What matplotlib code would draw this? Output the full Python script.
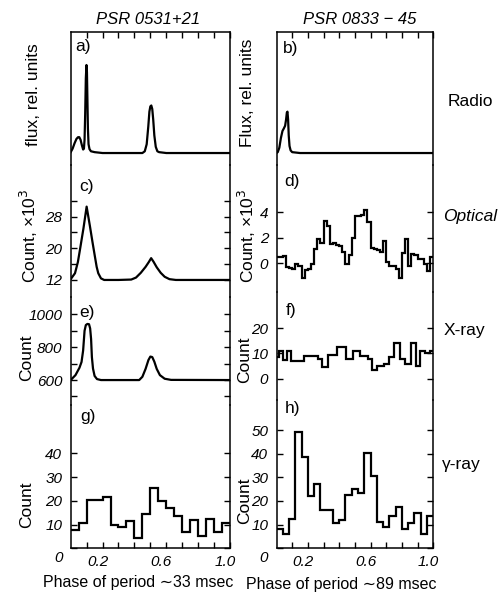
import matplotlib
matplotlib.use("Agg")
import matplotlib.pyplot as plt
import matplotlib.transforms as mtransforms
import numpy as np

W, H = 498, 593

# ---------------- data ----------------
# a) PSR 0531+21 radio (phase, relative flux)
crab_radio = [(0.0, 0.01), (0.012, 0.05), (0.024, 0.11), (0.036, 0.16), (0.046, 0.18),
              (0.054, 0.18), (0.062, 0.15), (0.070, 0.09), (0.078, 0.04), (0.083, 0.05),
              (0.087, 0.15), (0.091, 0.45), (0.095, 0.85), (0.099, 1.0), (0.102, 0.92),
              (0.105, 0.6), (0.108, 0.28), (0.112, 0.1), (0.118, 0.045), (0.127, 0.02),
              (0.15, 0.01), (0.2, 0.0), (0.45, 0.0), (0.465, 0.02), (0.477, 0.1),
              (0.487, 0.3), (0.494, 0.47), (0.5, 0.53), (0.506, 0.54), (0.512, 0.5),
              (0.518, 0.38), (0.525, 0.2), (0.534, 0.07), (0.544, 0.02), (0.555, 0.01),
              (0.6, 0.0), (1.0, 0.0)]
# b) PSR 0833-45 radio
vela_radio = [(0.0, 0.0), (0.008, 0.01), (0.018, 0.06), (0.028, 0.17), (0.038, 0.25),
              (0.047, 0.28), (0.055, 0.31), (0.061, 0.38), (0.066, 0.46), (0.070, 0.47),
              (0.074, 0.38), (0.078, 0.2), (0.083, 0.08), (0.09, 0.03), (0.1, 0.01),
              (0.15, 0.0), (1.0, 0.0)]
# c) PSR 0531+21 optical (count x 10^3)
crab_opt = [(0.0, 12.2), (0.027, 13.7), (0.045, 16.5), (0.058, 19.6), (0.08, 25.0),
            (0.1, 30.5), (0.121, 25.5), (0.137, 21.5), (0.152, 17.9), (0.163, 15.3),
            (0.173, 13.7), (0.19, 12.4), (0.21, 12.0), (0.3, 12.0), (0.38, 12.1),
            (0.41, 12.6), (0.44, 13.8), (0.47, 15.3), (0.49, 16.5), (0.505, 17.5),
            (0.52, 16.6), (0.54, 15.2), (0.565, 13.8), (0.59, 12.8), (0.62, 12.2),
            (0.66, 12.0), (1.0, 12.0)]
# e) PSR 0531+21 X-ray (count)
crab_xray = [(0.0, 600), (0.03, 630), (0.055, 675), (0.068, 710), (0.078, 780),
             (0.087, 900), (0.095, 935), (0.105, 942), (0.115, 940), (0.122, 915),
             (0.128, 850), (0.133, 740), (0.14, 670), (0.15, 625), (0.165, 606),
             (0.19, 600), (0.43, 600), (0.45, 620), (0.47, 668), (0.488, 722),
             (0.5, 743), (0.512, 740), (0.525, 712), (0.54, 668), (0.56, 630),
             (0.59, 608), (0.63, 601), (1.0, 600)]
# g) PSR 0531+21 gamma-ray histogram (bins of 0.05)
crab_gamma_edges = [0.0, 0.05, 0.1, 0.15, 0.2, 0.25, 0.3, 0.35, 0.4, 0.45, 0.5,
                    0.55, 0.6, 0.65, 0.7, 0.75, 0.8, 0.85, 0.9, 0.95, 1.0]
crab_gamma = [7.5, 10.5, 20.5, 20.5, 21.5, 10.0, 9.0, 11.5, 4.5, 14.5,
              25.5, 20.0, 17.0, 13.5, 7.0, 12.0, 5.0, 12.5, 7.0, 10.5]
# d) PSR 0833-45 optical histogram (bins of 0.02)
vela_opt_edges = list(np.round(np.linspace(0.0, 1.0, 51), 3))
vela_opt = [0.45, 0.45, 0.55, -0.3, -0.4, -0.45, -0.05, -0.2, -1.2, -0.55,
            -0.5, -0.1, 1.1, 1.9, 1.6, 3.3, 2.9, 1.5, 1.6, 1.45,
            1.3, 0.85, -0.1, 0.6, 2.0, 3.7, 3.7, 3.8, 4.2, 3.2,
            1.2, 1.1, 1.0, 0.85, 1.7, 0.1, -0.25, -0.25, -0.5, -1.2,
            0.8, 1.9, -0.2, 0.7, 0.6, 0.3, 0.3, -0.05, -0.6, 0.45]
# f) PSR 0833-45 X-ray histogram
vela_xray_edges = [0.0, 0.017, 0.044, 0.07, 0.095, 0.175, 0.264, 0.292, 0.328,
                   0.387, 0.446, 0.488, 0.535, 0.581, 0.609, 0.641, 0.683, 0.715,
                   0.751, 0.789, 0.82, 0.856, 0.888, 0.915, 0.947, 0.979, 1.0]
vela_xray = [8.5, 11.0, 7.5, 11.0, 7.0, 9.0, 8.0, 4.5, 9.5, 12.5, 8.0, 11.0, 9.0,
             8.0, 3.5, 5.0, 6.0, 8.5, 14.0, 8.0, 6.0, 14.0, 5.0, 11.0, 10.0, 11.0]
# h) PSR 0833-45 gamma-ray histogram (bins of 0.04)
vela_gamma_edges = [0.0, 0.04, 0.08, 0.12, 0.16, 0.2, 0.24, 0.28, 0.32, 0.36, 0.4,
                    0.44, 0.48, 0.52, 0.56, 0.6, 0.64, 0.68, 0.72, 0.76, 0.8,
                    0.84, 0.88, 0.92, 0.96, 1.0]
vela_gamma = [8.0, 6.0, 12.5, 49.0, 38.5, 22.0, 27.0, 16.0, 16.0, 10.5, 12.0,
              22.5, 25.0, 23.5, 40.5, 30.5, 11.0, 9.0, 13.5, 17.5, 8.0,
              10.5, 15.0, 6.0, 13.5]

phase_ticks = [0.1, 0.2, 0.3, 0.4, 0.5, 0.6, 0.7, 0.8, 0.9, 1.0]
phase_labels = ["", "0.2", "", "", "", "0.6", "", "", "", "1.0"]

# ---------------- styling ----------------
LBL = ["Liberation Sans", "DejaVu Sans"]
NUM = ["Liberation Sans Narrow", "Liberation Sans", "DejaVu Sans"]
LW = 1.6
SPW = 1.1

fig = plt.figure(figsize=(W / 100, H / 100), dpi=100)


def panel(x0, x1, ytop, ybot, ylim, first=False, last=False):
    ax = fig.add_axes([x0 / W, 1 - ybot / H, (x1 - x0) / W, (ybot - ytop) / H])
    ax.set_xlim(0, 1)
    ax.set_ylim(*ylim)
    ax.patch.set_alpha(0)
    for s in ax.spines.values():
        s.set_linewidth(SPW)
    ax.spines["top"].set_visible(first)
    ax.spines["bottom"].set_visible(last)
    ax.tick_params(axis="y", direction="in", left=True, right=True, length=4,
                   width=1, pad=6)
    ax.tick_params(axis="x", direction="in", top=first, bottom=last, length=4,
                   width=1, pad=5, labelbottom=last, labeltop=False)
    ax.set_xticks(phase_ticks)
    if last:
        ax.set_xticklabels(phase_labels, fontstyle="italic", fontsize=11,
                           family=NUM)
        off = mtransforms.ScaledTranslation(-5 / 100, 0, fig.dpi_scale_trans)
        for t in ax.get_xticklabels():
            t.set_transform(t.get_transform() + off)
    else:
        ax.set_xticklabels([])
    return ax


def set_yt(ax, ticks, labels):
    ax.set_yticks(ticks)
    ax.set_yticklabels(labels, fontstyle="italic", fontsize=11, family=NUM)


LX0, LX1 = 70.7, 230.0
RX0, RX1 = 276.5, 433.3
RADIO_LIM = (-0.136, 1.375)

# left column
ax_a = panel(LX0, LX1, 32, 165, RADIO_LIM, first=True)
ax_a.set_yticks([])
p, v = zip(*crab_radio)
ax_a.plot(p, v, color="black", lw=LW, solid_joinstyle="round")

ax_c = panel(LX0, LX1, 165, 297, (7.7, 41.0))
set_yt(ax_c, [12, 16, 20, 24, 28, 32], ["12", "", "20", "", "28", ""])
p, v = zip(*crab_opt)
ax_c.plot(p, v, color="black", lw=LW, solid_joinstyle="round")

ax_e = panel(LX0, LX1, 297, 405, (448, 1106))
set_yt(ax_e, [500, 600, 700, 800, 900, 1000], ["", "600", "", "800", "", "1000"])
p, v = zip(*crab_xray)
ax_e.plot(p, v, color="black", lw=LW, solid_joinstyle="round")

ax_g = panel(LX0, LX1, 405, 548.3, (0, 60.3), last=True)
set_yt(ax_g, [0, 10, 20, 30, 40], ["0", "10", "20", "30", "40"])
ax_g.stairs(crab_gamma, crab_gamma_edges, baseline=None, color="black", lw=LW)

# right column
ax_b = panel(RX0, RX1, 32, 165, RADIO_LIM, first=True)
ax_b.set_yticks([])
p, v = zip(*vela_radio)
ax_b.plot(p, v, color="black", lw=LW, solid_joinstyle="round")

ax_d = panel(RX0, RX1, 165, 292, (-2.27, 7.69))
set_yt(ax_d, [0, 2, 4], ["0", "2", "4"])
ax_d.stairs(vela_opt, vela_opt_edges, baseline=None, color="black", lw=LW)

ax_f = panel(RX0, RX1, 292, 400, (-8.45, 34.4))
set_yt(ax_f, [0, 10, 20], ["0", "10", "20"])
ax_f.stairs(vela_xray, vela_xray_edges, baseline=None, color="black", lw=LW)

ax_h = panel(RX0, RX1, 400, 548.3, (0, 62.7), last=True)
set_yt(ax_h, [0, 10, 20, 30, 40, 50], ["0", "10", "20", "30", "40", "50"])
ax_h.stairs(vela_gamma, vela_gamma_edges, baseline=None, color="black", lw=LW)

# shift the "0" labels of the bottom panels downward
down = mtransforms.ScaledTranslation(0, -8 / 100, fig.dpi_scale_trans)
for ax in (ax_g, ax_h):
    lab = ax.get_yticklabels()[0]
    lab.set_transform(lab.get_transform() + down)


def ftext(x, y, s, **kw):
    fig.text(x / W, 1 - y / H, s, ha="center", va="center", **kw)


# titles
ftext(148, 19, "PSR 0531+21", fontsize=12, fontstyle="italic", family=NUM)
ftext(360, 19, "PSR 0833 \u2212 45", fontsize=12, fontstyle="italic", family=NUM)

# panel letters
for (x, y, s) in [(83, 46, "a)"), (291, 48, "b)"), (86, 187, "c)"), (292, 182, "d)"),
                  (87, 313, "e)"), (291, 311, "f)"), (88, 416, "g)"), (292, 409, "h)")]:
    ftext(x, y, s, fontsize=12.5, family=LBL)

# y labels
ftext(33, 95, "flux, rel. units", fontsize=12.5, rotation=90, family=LBL)
ftext(247, 93, "Flux, rel. units", fontsize=12.5, rotation=90, family=LBL)
ftext(29, 236, "Count, \u00d710$^3$", fontsize=12.5, rotation=90, family=LBL)
ftext(247, 236, "Count, \u00d710$^3$", fontsize=12.5, rotation=90, family=LBL)
ftext(27, 358, "Count", fontsize=12.5, rotation=90, family=LBL)
ftext(245, 360, "Count", fontsize=12.5, rotation=90, family=LBL)
ftext(27, 505, "Count", fontsize=12.5, rotation=90, family=LBL)
ftext(245, 501, "Count", fontsize=12.5, rotation=90, family=LBL)

# band names
ftext(470, 102, "Radio", fontsize=12.5, family=LBL)
ftext(470, 217, "Optical", fontsize=12.5, fontstyle="italic", family=LBL)
ftext(464, 330, "X-ray", fontsize=12.5, family=LBL)
ftext(461, 464, "\u03b3-ray", fontsize=12.5, family=LBL)

# x labels
ftext(138, 583, "Phase of period \u223c33 msec", fontsize=11.5, family=LBL)
ftext(341, 584, "Phase of period \u223c89 msec", fontsize=11.5, family=LBL)

fig.savefig("out.png", dpi=100)
